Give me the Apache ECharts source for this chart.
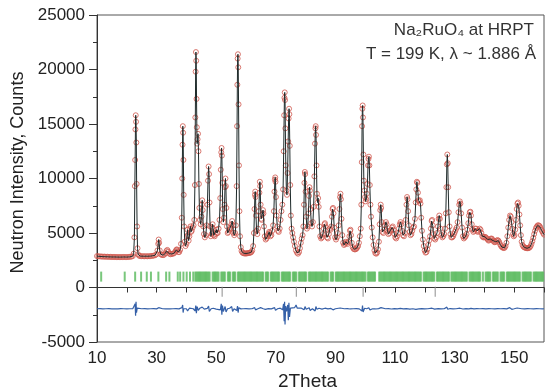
<!DOCTYPE html>
<html>
<head>
<meta charset="utf-8">
<script src="https://cdn.jsdelivr.net/npm/echarts/dist/echarts.min.js"></script>
<style>
html,body{margin:0;padding:0;background:#fff;}
#chart{width:545px;height:391px;}
</style>
</head>
<body>
<div id="chart"></div>
<script>
// ---- data ----
const xTicks = [10, 30, 50, 70, 90, 110, 130, 150];
const yTicks = [-5000, 0, 5000, 10000, 15000, 20000, 25000];

// observed profile: [2Theta, counts]
const obs = [
[10.0,2880],[10.5,2860],[11.0,2850],[11.5,2840],[12.0,2830],[12.5,2830],[13.0,2820],[13.5,2820],[14.0,2810],[14.5,2810],[15.0,2800],[15.5,2800],[16.0,2800],[16.5,2790],[17.0,2790],[17.5,2790],[18.0,2790],[18.5,2790],[19.0,2800],[19.5,2790],[20.0,2790],[20.5,2800],[21.0,2810],[21.5,2830],[22.0,2880],[22.3,3100],[22.55,4600],[22.7,9300],[22.8,11700],[22.9,14500],[23.0,15800],[23.1,15200],[23.2,13300],[23.3,9500],[23.45,5600],[23.6,3600],[23.8,3050],[24.1,2920],[24.5,2880],[25.0,2870],[25.5,2870],[26.0,2860],[26.5,2870],[27.0,2860],[27.5,2870],[28.0,2880],[28.5,2900],[29.0,2920],[29.5,2960],[30.0,3050],[30.3,3400],[30.55,4000],[30.7,4400],[30.85,4100],[31.05,3400],[31.4,3050],[31.8,2980],[32.2,2970],[32.6,3020],[33.0,3150],[33.3,3350],[33.6,3450],[33.9,3300],[34.3,3100],[34.7,3050],[35.1,3080],[35.5,3100],[35.9,3150],[36.3,3300],[36.6,3450],[36.8,3500],[37.0,3400],[37.3,3250],[37.6,3250],[37.9,3450],[38.2,4000],[38.45,6400],[38.6,10000],[38.7,13100],[38.8,14800],[38.9,14200],[39.0,11700],[39.1,8500],[39.25,5600],[39.45,4200],[39.7,3800],[40.0,4000],[40.2,4700],[40.35,5300],[40.5,4800],[40.75,4300],[41.0,4700],[41.2,5400],[41.35,5600],[41.55,5100],[41.8,5200],[42.1,5500],[42.4,5700],[42.65,6200],[42.85,9400],[43.0,15600],[43.1,19800],[43.2,21600],[43.3,20800],[43.4,17300],[43.5,14700],[43.6,13200],[43.75,13600],[43.9,14100],[44.05,12500],[44.2,9500],[44.35,7300],[44.55,6200],[44.8,5800],[45.05,6500],[45.2,7600],[45.3,8000],[45.45,7100],[45.65,5600],[45.9,4900],[46.2,4600],[46.5,4800],[46.8,5700],[47.05,7600],[47.25,9800],[47.45,11100],[47.6,10400],[47.75,7800],[47.95,5600],[48.2,4700],[48.45,4900],[48.65,5500],[48.8,5800],[48.95,5400],[49.2,4800],[49.5,4700],[49.8,4900],[50.05,5300],[50.25,5000],[50.5,5000],[50.8,5400],[51.1,6200],[51.35,8200],[51.55,10800],[51.7,12400],[51.8,12800],[51.9,12100],[52.05,9600],[52.2,7200],[52.4,6000],[52.6,6400],[52.8,7600],[52.95,9200],[53.1,10000],[53.25,9300],[53.4,7300],[53.6,5600],[53.85,5000],[54.1,5100],[54.4,5300],[54.7,5500],[54.9,5400],[55.15,5800],[55.35,6100],[55.55,5700],[55.8,5000],[56.05,4800],[56.35,5000],[56.6,5700],[56.85,9300],[57.0,14800],[57.1,18600],[57.2,21000],[57.3,21400],[57.4,20200],[57.5,16800],[57.65,11200],[57.8,7000],[58.0,4700],[58.25,3700],[58.5,3350],[58.8,3200],[59.1,3150],[59.4,3130],[59.7,3120],[60.0,3120],[60.3,3130],[60.6,3150],[60.9,3160],[61.2,3180],[61.5,3200],[61.8,3250],[62.1,3400],[62.4,3800],[62.65,5000],[62.85,7200],[63.0,8500],[63.1,8800],[63.2,8300],[63.35,6600],[63.55,5200],[63.8,4900],[64.05,5400],[64.3,7000],[64.5,8700],[64.65,9700],[64.75,9300],[64.9,7600],[65.1,6300],[65.3,6200],[65.5,6700],[65.7,7100],[65.85,6800],[66.05,5600],[66.3,4700],[66.6,4400],[66.9,4500],[67.2,4700],[67.5,4900],[67.75,5100],[67.95,5000],[68.2,4700],[68.5,4800],[68.8,5200],[69.1,5700],[69.35,7000],[69.55,8800],[69.7,9900],[69.8,10100],[69.9,9700],[70.05,8300],[70.25,6600],[70.5,5600],[70.75,5200],[71.0,5100],[71.3,5400],[71.6,6200],[71.9,7000],[72.2,7600],[72.45,9000],[72.65,12500],[72.8,15800],[72.9,17400],[73.0,17900],[73.1,17200],[73.2,14600],[73.35,11200],[73.55,8900],[73.75,8500],[73.95,10500],[74.15,13400],[74.3,15500],[74.45,16400],[74.55,15900],[74.7,13000],[74.85,9400],[75.05,6600],[75.3,5400],[75.55,5000],[75.8,4600],[76.1,4200],[76.4,3800],[76.75,3400],[77.1,3200],[77.45,3100],[77.8,3250],[78.1,3600],[78.4,4100],[78.7,4500],[79.0,4800],[79.25,5600],[79.45,7600],[79.6,9600],[79.75,10600],[79.85,10400],[80.0,8800],[80.2,6500],[80.45,5400],[80.7,5600],[80.95,6800],[81.15,8400],[81.3,9200],[81.45,8900],[81.65,7200],[81.9,5900],[82.15,5600],[82.45,6000],[82.7,7400],[82.95,10200],[83.15,13200],[83.3,14600],[83.4,14800],[83.5,14000],[83.65,11200],[83.8,8600],[84.0,7800],[84.2,8200],[84.4,7400],[84.65,5600],[84.9,4700],[85.2,4500],[85.5,4600],[85.8,4900],[86.1,5400],[86.35,5800],[86.5,5900],[86.65,5600],[86.9,4900],[87.2,4600],[87.5,4500],[87.8,4900],[88.1,5400],[88.35,5300],[88.6,5600],[88.85,6500],[89.05,7200],[89.2,7300],[89.35,6800],[89.6,5500],[89.9,4600],[90.2,4400],[90.5,4600],[90.8,5000],[91.1,5700],[91.35,7200],[91.55,8300],[91.7,8600],[91.85,8100],[92.05,6300],[92.3,4800],[92.6,4100],[92.9,3900],[93.2,4000],[93.5,4200],[93.8,4100],[94.1,4000],[94.4,4200],[94.7,4700],[94.9,5200],[95.05,5300],[95.25,4800],[95.5,4100],[95.8,3700],[96.1,3550],[96.4,3500],[96.7,3500],[97.0,3550],[97.3,3650],[97.6,3800],[97.9,4100],[98.2,4700],[98.5,5400],[98.7,7600],[98.85,11500],[98.95,14800],[99.05,16400],[99.15,16700],[99.25,15600],[99.4,12200],[99.55,9800],[99.75,8900],[99.95,8300],[100.15,7900],[100.35,8100],[100.55,8600],[100.75,9500],[100.95,11200],[101.1,11800],[101.25,12000],[101.4,11200],[101.55,9400],[101.75,7600],[101.95,6500],[102.2,5500],[102.5,4600],[102.8,3900],[103.1,3400],[103.4,3150],[103.7,3100],[104.0,3200],[104.3,3500],[104.6,4200],[104.85,5800],[105.05,7100],[105.2,7600],[105.35,7300],[105.55,6000],[105.8,5100],[106.1,5000],[106.4,5300],[106.7,5700],[106.95,6000],[107.2,5800],[107.5,5200],[107.8,4900],[108.1,5000],[108.4,5200],[108.7,5300],[109.0,5500],[109.25,5600],[109.5,5300],[109.8,4900],[110.1,4600],[110.4,4500],[110.7,4700],[111.0,5000],[111.3,5400],[111.6,5800],[111.85,6000],[112.1,5800],[112.4,5200],[112.7,4800],[113.0,4700],[113.3,5000],[113.6,6200],[113.85,7600],[114.05,8300],[114.2,8100],[114.4,7000],[114.65,5700],[114.9,5100],[115.2,4800],[115.5,4900],[115.8,5200],[116.1,5500],[116.4,5600],[116.7,6300],[116.95,7800],[117.15,9000],[117.35,9700],[117.5,9600],[117.7,8700],[117.9,8000],[118.1,7900],[118.35,8000],[118.55,7700],[118.8,6400],[119.05,5200],[119.35,4400],[119.65,3800],[119.95,3400],[120.25,3200],[120.55,3250],[120.85,3500],[121.15,3900],[121.45,4300],[121.75,4700],[122.05,5400],[122.3,6100],[122.45,6200],[122.65,5700],[122.9,4900],[123.2,4500],[123.5,4400],[123.8,4600],[124.1,5000],[124.4,5600],[124.65,6300],[124.85,6600],[125.05,6300],[125.3,5400],[125.6,4800],[125.9,4600],[126.2,4700],[126.5,4900],[126.8,5400],[127.05,6800],[127.25,9200],[127.4,11300],[127.55,12200],[127.7,11400],[127.85,9200],[128.05,6900],[128.3,5600],[128.6,4900],[128.9,4600],[129.2,4600],[129.5,4700],[129.8,4900],[130.1,5100],[130.4,5300],[130.7,5500],[131.0,6000],[131.3,6900],[131.55,7600],[131.75,7900],[131.95,7700],[132.2,6800],[132.5,5500],[132.8,4700],[133.1,4500],[133.4,4600],[133.7,4700],[134.0,4900],[134.3,5300],[134.6,5900],[134.85,6600],[135.1,6900],[135.3,6950],[135.5,6600],[135.75,5800],[136.0,5300],[136.3,5100],[136.6,5200],[136.9,5400],[137.2,5400],[137.5,5200],[137.8,5100],[138.1,5200],[138.4,5400],[138.7,5300],[139.0,5000],[139.3,4700],[139.6,4600],[139.9,4600],[140.2,4650],[140.5,4600],[140.8,4500],[141.1,4400],[141.4,4300],[141.7,4350],[142.0,4450],[142.3,4500],[142.6,4450],[142.9,4300],[143.2,4200],[143.5,4150],[143.8,4200],[144.1,4300],[144.4,4350],[144.7,4300],[145.0,4150],[145.3,3950],[145.6,3800],[145.9,3700],[146.2,3650],[146.5,3620],[146.8,3650],[147.1,3800],[147.4,4100],[147.7,4700],[148.0,5500],[148.3,6200],[148.6,6600],[148.85,6500],[149.1,6000],[149.35,5400],[149.6,4900],[149.85,4700],[150.1,4800],[150.35,5300],[150.6,6200],[150.85,7200],[151.1,7700],[151.3,7800],[151.5,7500],[151.75,6700],[152.0,5700],[152.25,4800],[152.5,4200],[152.8,3900],[153.1,3750],[153.4,3680],[153.7,3650],[154.0,3620],[154.3,3600],[154.6,3600],[154.9,3620],[155.2,3680],[155.5,3800],[155.8,4000],[156.1,4250],[156.4,4550],[156.7,4900],[157.0,5200],[157.3,5450],[157.6,5600],[157.9,5700],[158.2,5700],[158.5,5650],[158.8,5500],[159.1,5300],[159.4,5150],[159.7,5000],[160.0,4850]
];

// difference curve (Iobs - Icalc, shifted): [2Theta, counts]
const diff = [
[10,-1950],[11,-1940],[12,-1960],[13,-1950],[14,-1945],[15,-1955],[16,-1950],[17,-1960],[18,-1940],[19,-1950],[20,-1955],[21,-1950],[22,-1940],[22.6,-1800],[22.8,-1500],[22.95,-2600],[23.1,-1300],[23.25,-2300],[23.5,-1900],[24,-1960],[25,-1950],[26,-1940],[27,-1960],[28,-1950],[29,-1945],[30,-1960],[30.7,-1850],[31.2,-2000],[32,-1950],[33,-1960],[33.6,-1880],[34.5,-1960],[35.5,-1950],[36.5,-1940],[37.5,-1960],[38.5,-1850],[38.75,-1600],[38.9,-2300],[39.1,-1950],[40,-1950],[40.4,-2150],[41,-1900],[41.5,-2050],[42.3,-1950],[42.9,-2150],[43.15,-1650],[43.35,-2350],[43.6,-1750],[44.0,-2100],[44.5,-1900],[45.3,-1800],[46,-1980],[47,-1920],[47.45,-1700],[47.7,-2200],[48.3,-1950],[49,-1900],[50,-1980],[50.6,-1850],[51.4,-2050],[51.7,-1500],[51.9,-2500],[52.1,-1650],[52.4,-2200],[53.0,-1750],[53.3,-2250],[53.8,-1950],[54.5,-1900],[55.2,-1750],[55.5,-2200],[56,-1950],[56.9,-2100],[57.15,-1700],[57.35,-2300],[57.6,-1850],[58.3,-1960],[59,-1950],[60,-1945],[61,-1960],[62,-1950],[62.9,-1850],[63.2,-2050],[64,-1950],[64.6,-2050],[64.9,-1850],[65.8,-1950],[66.5,-2000],[67.5,-1940],[68.5,-1960],[69.6,-1850],[69.9,-2100],[70.6,-1950],[71.5,-1900],[72.3,-2050],[72.6,-1500],[72.8,-3100],[72.95,-1300],[73.1,-3400],[73.3,-1700],[73.6,-2200],[74.0,-1600],[74.2,-3000],[74.4,-1400],[74.6,-2700],[74.9,-1900],[75.5,-2000],[76.3,-1850],[76.8,-1600],[77.2,-1900],[77.8,-1980],[78.6,-1900],[79.5,-2050],[79.8,-1750],[80.2,-2000],[81.2,-1850],[81.5,-2100],[82.3,-1950],[83.2,-2150],[83.45,-1750],[83.8,-2000],[84.5,-1900],[85.5,-1980],[86.5,-1900],[87.5,-1960],[88.5,-1920],[89.2,-2050],[90,-1950],[91.6,-1880],[92.2,-2000],[93,-1950],[94,-1940],[95,-1970],[96,-1950],[97,-1940],[98,-1960],[98.9,-2150],[99.1,-1650],[99.3,-2250],[99.8,-1900],[100.5,-1950],[101.2,-1850],[101.6,-2050],[102.5,-1950],[103.5,-1970],[104.5,-1940],[105.3,-1850],[105.8,-2000],[106.8,-1950],[107.8,-1930],[108.8,-1970],[109.8,-1940],[110.8,-1960],[111.8,-1920],[112.8,-1960],[113.8,-1940],[114.3,-1870],[115,-1980],[116,-1950],[117,-2000],[117.5,-1880],[118,-1960],[119,-1940],[120,-1960],[121,-1950],[122.4,-1900],[123.3,-1980],[124.5,-1940],[125.5,-1960],[126.5,-1950],[127.4,-1800],[127.7,-2000],[128.5,-1930],[129.5,-1960],[130.5,-1950],[131.8,-1900],[132.8,-1970],[133.8,-1940],[134.8,-1960],[135.5,-1920],[136.5,-1960],[137.5,-1940],[138.5,-1950],[139.5,-1930],[140.5,-1960],[141.5,-1940],[142.5,-1950],[143.5,-1960],[144.5,-1940],[145.5,-1950],[146.5,-1930],[147.5,-1960],[148.5,-1850],[149.2,-2000],[150,-1950],[151,-1880],[151.6,-2000],[152.5,-1950],[153.5,-1960],[154.5,-1940],[155.5,-1950],[156.5,-1960],[157.5,-1940],[158.5,-1950],[159.5,-1960],[160,-1950]
];

// Bragg reflection positions, main phase (green) and second phase (grey)
const braggMain = [
11.4,19.3,22.8,24.8,26.7,28.1,30.6,33.2,34.3,37.1,37.9,39.0,40.1,41.2,42.3,
43.0,43.4,43.8,44.2,44.6,45.0,45.4,45.8,46.2,46.6,47.0,47.4,47.8,48.8,49.2,49.6,50.0,50.4,50.8,51.7,52.1,52.5,52.9,53.9,54.3,54.7,55.6,56.0,56.4,57.3,57.7,58.1,58.5,58.9,59.3,59.7,60.1,60.5,60.9,61.3,61.7,62.1,62.5,62.9,63.3,63.7,64.1,64.5,64.9,65.3,65.7,66.6,67.0,67.4,68.3,68.7,69.1,69.5,69.9,70.3,70.7,71.1,72.0,72.4,72.8,73.2,73.6,74.0,74.4,74.8,75.7,76.1,76.5,76.9,77.8,78.2,78.6,79.0,79.4,79.8,80.2,81.1,81.5,81.9,82.3,82.7,83.1,83.5,83.9,84.3,84.7,85.1,85.5,85.9,86.3,86.7,87.1,87.5,88.4,88.8,89.2,90.1,90.5,90.9,91.3,91.7,92.1,92.5,92.9,93.3,93.7,94.1,94.5,94.9,95.3,95.7,96.1,96.5,96.9,97.3,97.7,98.1,98.5,98.9,99.3,99.7,100.1,100.9,101.3,101.7,102.1,102.5,102.9,103.3,104.7,105.1,105.5,105.9,106.3,106.7,107.1,107.5,107.9,108.3,108.7,109.1,109.5,109.9,110.3,110.7,111.1,111.5,111.9,112.3,112.7,113.1,113.5,113.9,114.3,114.7,115.1,115.5,115.9,116.3,116.7,117.1,117.5,117.9,118.3,118.7,119.6,120.0,120.4,120.8,121.2,121.6,122.0,122.4,122.8,123.2,124.1,124.5,124.9,125.3,125.7,126.1,126.5,126.9,127.3,127.7,128.1,128.9,129.3,129.7,130.1,130.5,130.9,131.3,131.7,132.1,132.5,132.9,133.3,133.7,134.1,135.0,135.4,135.8,136.2,136.6,137.0,137.4,137.8,138.2,138.6,139.5,140.4,140.8,141.2,141.6,142.0,142.9,143.3,143.7,144.1,144.5,145.4,145.8,146.2,146.6,147.5,147.9,148.3,148.7,149.1,149.5,149.9,150.3,150.7,151.1,151.5,151.9,152.8,153.2,153.6,154.0,154.4,154.8,155.2,155.6,156.5,156.9,157.3,157.7,158.1,158.5,158.9,159.3,159.7
];
const braggSecond = [52.0, 76.9, 99.3, 123.5];
const braggMainRow = 1000;
const braggSecondRow = -380;

const titleLine1 = 'Na\u2082RuO\u2084 at HRPT';
const titleLine2 = 'T = 199 K, \u03bb ~ 1.886 \u00c5';

const FONT = '"Liberation Sans", Arial, Helvetica, sans-serif';
const chart = echarts.init(document.getElementById('chart'), null, {renderer: 'canvas'});
chart.setOption({
  animation: false,
  backgroundColor: '#ffffff',
  textStyle: {fontFamily: FONT},
  grid: {left: 97, right: 1, top: 15, bottom: 49, show: true, borderColor: '#555', borderWidth: 1,
         backgroundColor: 'transparent', containLabel: false, outerBoundsMode: 'none'},
  xAxis: {
    type: 'value', min: xTicks[0], max: 160, interval: 20,
    name: '2Theta', nameLocation: 'middle', nameGap: 29,
    nameTextStyle: {fontSize: 19, color: '#222', fontFamily: FONT, padding: [0, 26, 0, 0]},
    axisLine: {show: true, lineStyle: {color: '#333', width: 1}},
    axisTick: {show: true, length: 5, lineStyle: {color: '#333'}},
    minorTick: {show: true, splitNumber: 2, length: 5, lineStyle: {color: '#333'}},
    axisLabel: {fontSize: 17, color: '#222', margin: 8, fontFamily: FONT, showMaxLabel: false, formatter: v => String(v)},
    splitLine: {show: false}
  },
  yAxis: {
    type: 'value', min: yTicks[0], max: yTicks[yTicks.length - 1], interval: 5000,
    name: 'Neutron Intensity, Counts', nameLocation: 'middle', nameGap: 64,
    nameTextStyle: {fontSize: 18, color: '#222', fontFamily: FONT, padding: [0, 0, 0, 12]},
    axisLine: {show: true, lineStyle: {color: '#333', width: 1}},
    axisTick: {show: true, length: 8, lineStyle: {color: '#333'}},
    minorTick: {show: true, splitNumber: 2, length: 4, lineStyle: {color: '#333'}},
    axisLabel: {fontSize: 17, color: '#222', margin: 12, fontFamily: FONT, formatter: v => String(v)},
    splitLine: {show: false}
  },
  graphic: [
    {type: 'text', right: 11, top: 22, style: {text: titleLine1, font: '17px ' + FONT, fill: '#333'}},
    {type: 'text', right: 9, top: 46, style: {text: titleLine2, font: '17px ' + FONT, fill: '#333'}}
  ],
  series: [
    {
      name: 'obs', type: 'scatter', data: obs, symbol: 'circle', symbolSize: 5,
      itemStyle: {color: 'rgba(0,0,0,0)', borderColor: '#d0574d', borderWidth: 1}, z: 2
    },
    {
      name: 'calc', type: 'line', data: obs, showSymbol: false, symbol: 'none',
      lineStyle: {color: '#1e2a2a', width: 1}, z: 3
    },
    {
      name: 'diff', type: 'line', data: diff, showSymbol: false, symbol: 'none',
      lineStyle: {color: '#3560a8', width: 1.2}, z: 3
    },
    {
      name: 'bragg1', type: 'scatter', data: braggMain.map(p => [p, braggMainRow]),
      symbol: 'rect', symbolSize: [2, 10], itemStyle: {color: '#57b95b'}, z: 2
    },
    {
      name: 'bragg2', type: 'scatter', data: braggSecond.map(p => [p, braggSecondRow]),
      symbol: 'rect', symbolSize: [1.2, 10], itemStyle: {color: '#888'}, z: 2
    }
  ]
});
</script>
</body>
</html>
